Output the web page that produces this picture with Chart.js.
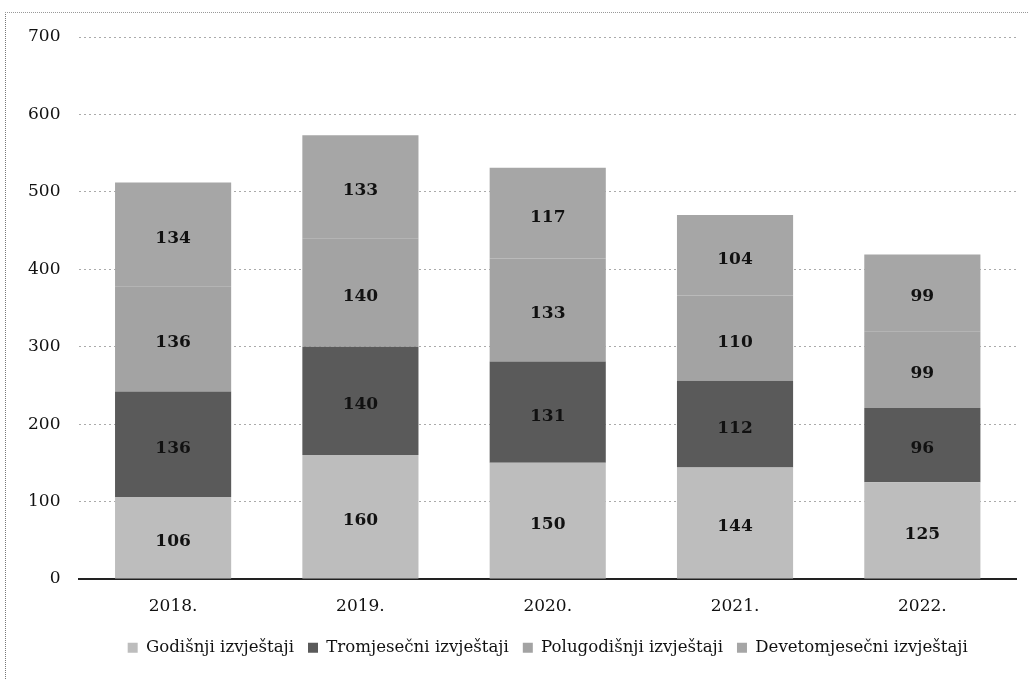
<!DOCTYPE html>
<html>
<head>
<meta charset="utf-8">
<script src="https://cdn.jsdelivr.net/npm/chart.js@4.4.1/dist/chart.umd.min.js"></script>
<style>
  html, body { margin: 0; padding: 0; background: #fff; }
  #frame {
    position: absolute; left: 5px; top: 12px; width: 1040px; height: 700px;
    border-left: 1px dotted #777; border-top: 1px dotted #999;
  }
  #wrap { position: absolute; left: 0; top: 0; width: 1028px; height: 680px; }
</style>
</head>
<body>
<div id="frame"></div>
<div id="wrap"><canvas id="chart"></canvas></div>
<script>
// godine i vrijednosti po vrsti izvještaja
var years = ['2018.', '2019.', '2020.', '2021.', '2022.'];
var godisnji = [106, 160, 150, 144, 125];
var tromjesecni = [136, 140, 131, 112, 96];
var polugodisnji = [136, 140, 133, 110, 99];
var devetomjesecni = [134, 133, 117, 104, 99];
var yTicks = [0, 100, 200, 300, 400, 500, 600, 700];

var serif = "'DejaVu Serif', 'Liberation Serif', serif";

// ispis vrijednosti u sredini svakog dijela stupca
var valueLabels = {
  id: 'valueLabels',
  afterDatasetsDraw: function(chart) {
    var ctx = chart.ctx;
    ctx.save();
    ctx.font = 'bold 17px ' + serif;
    ctx.fillStyle = '#111';
    ctx.textAlign = 'center';
    ctx.textBaseline = 'middle';
    chart.data.datasets.forEach(function(ds, i) {
      chart.getDatasetMeta(i).data.forEach(function(bar, j) {
        var mid = (bar.y + bar.base) / 2;
        ctx.fillText(ds.data[j], bar.x, mid + 4);
      });
    });
    ctx.restore();
  }
};

var config = {
  type: 'bar',
  data: {
    labels: years,
    datasets: [
      { label: 'Godišnji izvještaji', data: godisnji, backgroundColor: '#bdbdbd' },
      { label: 'Tromjesečni izvještaji', data: tromjesecni, backgroundColor: '#5a5a5a' },
      { label: 'Polugodišnji izvještaji', data: polugodisnji, backgroundColor: '#a3a3a3' },
      { label: 'Devetomjesečni izvještaji', data: devetomjesecni, backgroundColor: '#a6a6a6' }
    ]
  },
  options: {
    responsive: true,
    maintainAspectRatio: false,
    animation: false,
    layout: { padding: { left: 9, right: 12, top: 37, bottom: 14 } },
    datasets: { bar: { categoryPercentage: 1, barPercentage: 0.62 } },
    scales: {
      x: {
        stacked: true,
        grid: { display: false },
        border: { color: '#222', width: 2 },
        ticks: { color: '#111', font: { family: serif, size: 17 }, padding: 9 }
      },
      y: {
        stacked: true,
        min: 0, max: 700,
        afterBuildTicks: function(axis) { axis.ticks = yTicks.map(function(v) { return { value: v }; }); },
        grid: { color: '#aaa', lineWidth: 1, drawTicks: false },
        border: { display: false, dash: [2, 3] },
        ticks: { color: '#111', font: { family: serif, size: 17 }, padding: 19 }
      }
    },
    plugins: {
      legend: {
        position: 'bottom',
        fullSize: false,
        labels: {
          color: '#111',
          font: { family: serif, size: 16.6 },
          usePointStyle: true,
          pointStyle: 'rect',
          boxWidth: 10,
          boxHeight: 10,
          padding: 14
        }
      },
      tooltip: { enabled: false }
    }
  },
  plugins: [valueLabels]
};

var ctx = document.getElementById('chart').getContext('2d');
window.myBar = new Chart(ctx, config);
</script>
</body>
</html>
